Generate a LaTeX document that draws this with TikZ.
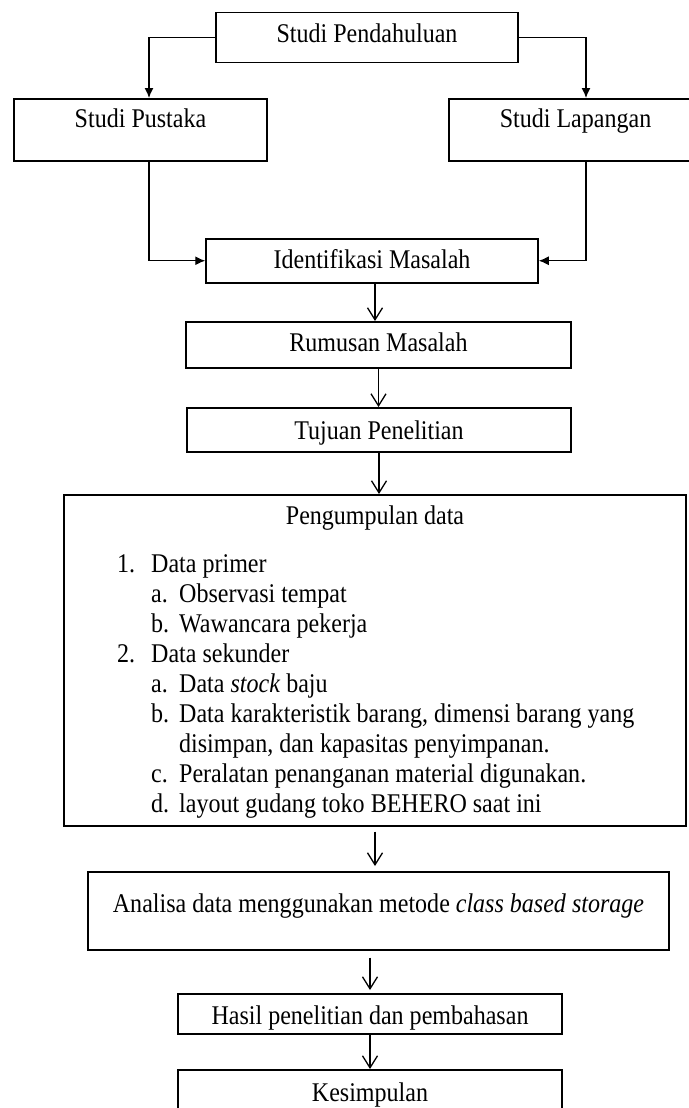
\documentclass[tikz,border=0pt]{standalone}
\usepackage{fontspec}
\setmainfont{Liberation Serif}[FakeStretch=0.89]
\usetikzlibrary{arrows.meta}

\begin{document}
\begin{tikzpicture}[x=1pt, y=-1pt,
	font=\fontsize{27}{30}\selectfont,
	kotak/.style={draw, line width=1.5pt, inner sep=0pt, anchor=north},
	panah/.style={line width=1.3pt, -{Straight Barb[length=12pt, width=15pt, line width=1.3pt]}},
	panahisi/.style={line width=1.3pt, -{Latex[length=10pt, width=9pt]}}]
	\useasboundingbox (0, 0) rectangle (688, 1108);
	% Studi awal.
	\node[kotak, minimum width=302pt, text height=30pt, text depth=20pt]
		(pendahuluan) at (367, 12) {Studi Pendahuluan};
	\node[kotak, minimum width=253pt, text height=29pt, text depth=33pt]
		(pustaka) at (140.5, 98) {Studi Pustaka};
	\node[kotak, minimum width=253pt, text height=29pt, text depth=33pt]
		(lapangan) at (575.5, 98) {Studi Lapangan};
	\node[kotak, minimum width=332pt, text height=30pt, text depth=14pt]
		(identifikasi) at (372, 238) {Identifikasi Masalah};
	\draw[panahisi] (pendahuluan.west) -| ([xshift=8.5pt]pustaka.north);
	\draw[panahisi] (pendahuluan.east) -| ([xshift=10.5pt]lapangan.north);
	\draw[panahisi] ([xshift=8.5pt]pustaka.south) |- (identifikasi.west);
	\draw[panahisi] ([xshift=10.5pt]lapangan.south) |- (identifikasi.east);
	% Rumusan dan tujuan.
	\node[kotak, minimum width=385pt, text height=30pt, text depth=16pt]
		(rumusan) at (378.5, 321) {Rumusan Masalah};
	\node[kotak, minimum width=384pt, text height=32pt, text depth=12pt]
		(tujuan) at (379, 407) {Tujuan Penelitian};
	\draw[panah] ([xshift=3pt]identifikasi.south) -- ([xshift=3pt]identifikasi.south |- rumusan.north);
	\draw[panah] (rumusan.south) -- (rumusan.south |- tujuan.north);
	% Pengumpulan data.
	\node[kotak, minimum width=622pt, text height=30pt, text depth=301pt]
		(pengumpulan) at (375, 494) {Pengumpulan data};
	\node[inner sep=0pt, anchor=base west] (rincian) at (117, 572) {%
		\begin{tabular}[t]{@{}p{34pt}@{}p{28pt}@{}l@{}}
		1. & \multicolumn{2}{@{}l@{}}{Data primer}\\
		& a. & Observasi tempat\\
		& b. & Wawancara pekerja\\
		2. & \multicolumn{2}{@{}l@{}}{Data sekunder}\\
		& a. & Data \textit{stock} baju\\
		& b. & Data karakteristik barang, dimensi barang yang\\
		& & disimpan, dan kapasitas penyimpanan.\\
		& c. & Peralatan penanganan material digunakan.\\
		& d. & layout gudang toko BEHERO saat ini
		\end{tabular}};
	\draw[panah] (tujuan.south) -- (tujuan.south |- pengumpulan.north);
	% Analisa sampai kesimpulan.
	\node[kotak, minimum width=581pt, text height=41pt, text depth=37pt]
		(analisa) at (378.5, 871) {Analisa data menggunakan metode \textit{class based storage}};
	\node[kotak, minimum width=384pt, text height=31pt, text depth=9pt]
		(hasil) at (370, 993) {Hasil penelitian dan pembahasan};
	\node[kotak, minimum width=384pt, text height=32pt, text depth=14pt]
		(kesimpulan) at (370, 1069) {Kesimpulan};
	\draw[panah, shorten <=5pt, shorten >=5pt] (pengumpulan.south) -- (pengumpulan.south |- analisa.north);
	\draw[panah, shorten <=7pt, shorten >=3pt] (hasil.north |- analisa.south) -- (hasil.north);
	\draw[panah] (hasil.south) -- (kesimpulan.north);
\end{tikzpicture}
\end{document}
